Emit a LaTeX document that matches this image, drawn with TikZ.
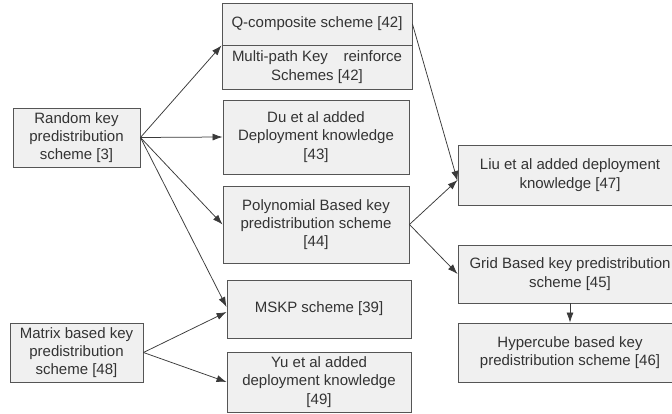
\documentclass[tikz,border=0pt]{standalone}
\usepackage{fontspec}
\setmainfont{Liberation Sans}
\usetikzlibrary{arrows.meta,calc}
\definecolor{boxfill}{HTML}{F0F0F0}
\definecolor{boxline}{HTML}{555555}
\definecolor{txt}{HTML}{333333}
\definecolor{conn}{HTML}{3A3A3A}
\begin{document}
\begin{tikzpicture}[x=1pt,y=-1pt,
  block/.style={draw=boxline,fill=boxfill,line width=0.9pt,rectangle,
    align=center,inner sep=0pt,text=txt,
    font=\fontsize{15}{18.3}\selectfont},
  link/.style={draw=conn,line width=0.75pt,-{Latex[length=10pt,width=7pt]}}]
\useasboundingbox (0,0) rectangle (672,414);
\clip (0,0) rectangle (672,414);
\fill[white] (0,0) rectangle (672,414);

% left column
\node[block,minimum width=127pt,minimum height=59pt] (rk) at (76.5,137.5)
  {Random key\\predistribution\\scheme [3]};
\node[block,minimum width=133pt,minimum height=59pt] (mat) at (76.5,352.5)
  {Matrix based key\\predistribution\\scheme [48]};

% middle column
\node[block,minimum width=190pt,minimum height=42pt] (qc) at (317,24)
  {Q-composite scheme [42]};
\node[block,minimum width=190pt,minimum height=44pt] (mp) at (317,67)
  {\makebox[170pt]{Multi-path Key\hfill reinforce}\\Schemes [42]};
\node[block,minimum width=186pt,minimum height=74pt] (du) at (316,137)
  {Du et al added\\Deployment knowledge\\{[43]}};
\node[block,minimum width=186pt,minimum height=77pt] (poly) at (316,224.5)
  {Polynomial Based key\\predistribution scheme\\{[44]}};
\node[block,minimum width=184pt,minimum height=58pt] (mskp) at (319,309)
  {MSKP scheme [39]};
\node[block,minimum width=184pt,minimum height=60pt] (yu) at (319,382)
  {Yu et al added\\deployment knowledge\\{[49]}};

% right column
\node[block,minimum width=224pt,minimum height=60pt] (liu) at (570,175)
  {Liu et al added deployment\\knowledge [47]};
\node[block,minimum width=224pt,minimum height=58pt] (grid) at (570,274)
  {Grid Based key predistribution\\scheme [45]};
\node[block,minimum width=224pt,minimum height=59pt] (hyp) at (570,352.5)
  {Hypercube based key\\predistribution scheme [46]};

% connectors
\draw[link] (rk.east) -- (qc.south west);
\draw[link] (rk.east) -- (du.west);
\draw[link] (rk.east) -- (poly.west);
\draw[link] (rk.east) -- ($(mskp.west)+(0,-2)$);
\draw[link] (mat.east) -- ($(mskp.west)+(0,3)$);
\draw[link] (mat.east) -- (yu.west);
\draw[link] (qc.east) -- ($(liu.west)+(0,6)$);
\draw[link] (poly.east) -- ($(liu.west)+(0,5)$);
\draw[link] (poly.east) -- (grid.west);
\draw[link] (grid.south) -- (hyp.north);
\end{tikzpicture}
\end{document}
